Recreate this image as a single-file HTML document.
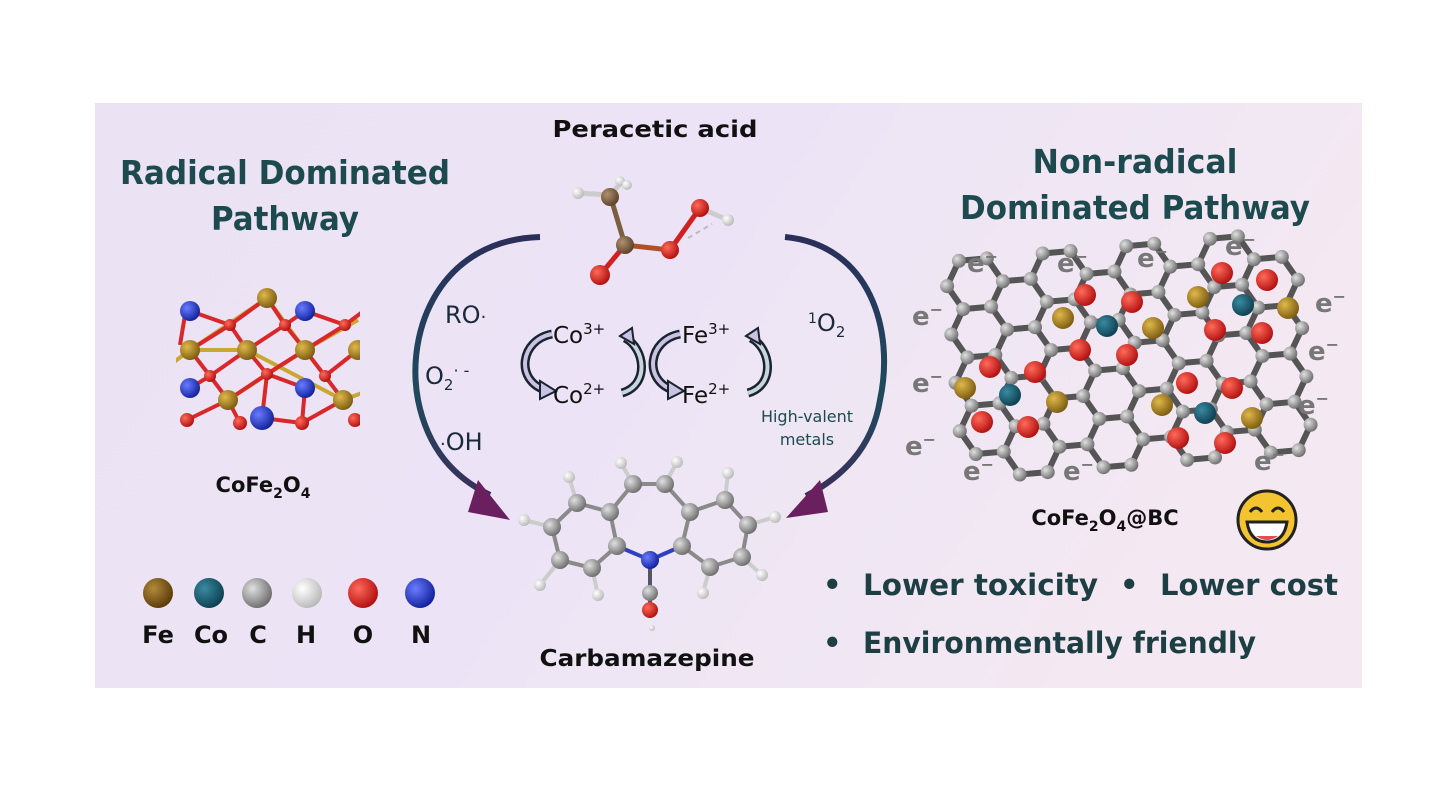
<!DOCTYPE html>
<html><head><meta charset="utf-8"><style>
html,body{margin:0;padding:0;background:#fff;}
svg{display:block;}
text{font-family:"DejaVu Sans","Liberation Sans",sans-serif;font-weight:bold;}
</style></head><body>
<svg id="s" width="1440" height="801" viewBox="0 0 1440 801" xmlns="http://www.w3.org/2000/svg">
<defs>
<linearGradient id="bg" x1="0" y1="0" x2="1" y2="0.3">
<stop offset="0" stop-color="#ebe3f3"/><stop offset="0.5" stop-color="#ece4f6"/><stop offset="1" stop-color="#f4e9f2"/>
</linearGradient>
<radialGradient id="gC" cx="0.35" cy="0.35" r="0.7"><stop offset="0" stop-color="#e0e0e0"/><stop offset="1" stop-color="#6b6b6b"/></radialGradient>
<radialGradient id="gH" cx="0.35" cy="0.35" r="0.7"><stop offset="0" stop-color="#ffffff"/><stop offset="1" stop-color="#b8b8b8"/></radialGradient>
<radialGradient id="gO" cx="0.35" cy="0.35" r="0.7"><stop offset="0" stop-color="#ff6a5a"/><stop offset="1" stop-color="#b00e0e"/></radialGradient>
<radialGradient id="gN" cx="0.35" cy="0.35" r="0.7"><stop offset="0" stop-color="#6a7bff"/><stop offset="1" stop-color="#10209a"/></radialGradient>
<radialGradient id="gFe" cx="0.35" cy="0.35" r="0.7"><stop offset="0" stop-color="#e0b84a"/><stop offset="1" stop-color="#7a5a10"/></radialGradient>
<radialGradient id="gFeL" cx="0.35" cy="0.35" r="0.7"><stop offset="0" stop-color="#b08a3a"/><stop offset="1" stop-color="#5a3a08"/></radialGradient>
<radialGradient id="gCo" cx="0.35" cy="0.35" r="0.7"><stop offset="0" stop-color="#3a8aa0"/><stop offset="1" stop-color="#0d3e50"/></radialGradient>
<radialGradient id="gBr" cx="0.35" cy="0.35" r="0.7"><stop offset="0" stop-color="#b09070"/><stop offset="1" stop-color="#5a4028"/></radialGradient>
<linearGradient id="arcL" x1="0" y1="0" x2="0" y2="1"><stop offset="0" stop-color="#2a2f5a"/><stop offset="0.6" stop-color="#1f4a5e"/><stop offset="1" stop-color="#3a2f5a"/></linearGradient>
<clipPath id="cr"><rect x="176" y="284" width="184" height="150"/></clipPath>
</defs>
<rect x="95" y="103" width="1267" height="585" fill="url(#bg)"/>

<!-- Titles -->
<text x="285" y="184" font-size="33" fill="#1d4a4e" text-anchor="middle" textLength="330" lengthAdjust="spacingAndGlyphs">Radical Dominated</text>
<text x="285" y="230" font-size="33" fill="#1d4a4e" text-anchor="middle" textLength="148" lengthAdjust="spacingAndGlyphs">Pathway</text>
<text x="1135" y="173" font-size="33" fill="#1d4a4e" text-anchor="middle" textLength="205" lengthAdjust="spacingAndGlyphs">Non-radical</text>
<text x="1135" y="219" font-size="33" fill="#1d4a4e" text-anchor="middle" textLength="350" lengthAdjust="spacingAndGlyphs">Dominated Pathway</text>
<text x="655" y="137" font-size="23" fill="#111" text-anchor="middle" textLength="205" lengthAdjust="spacingAndGlyphs">Peracetic acid</text>

<!-- Crystal -->
<g clip-path="url(#cr)" stroke-width="4">
<g stroke="#c9a832">
<line x1="267" y1="298" x2="190" y2="350"/><line x1="267" y1="298" x2="305" y2="350"/>
<line x1="190" y1="350" x2="247" y2="350"/><line x1="247" y1="350" x2="343" y2="400"/>
<line x1="305" y1="350" x2="228" y2="400"/><line x1="358" y1="320" x2="305" y2="350"/>
<line x1="190" y1="350" x2="170" y2="365"/><line x1="343" y1="400" x2="370" y2="390"/>
</g>
<g stroke="#d8282a">
<line x1="190" y1="311" x2="230" y2="325"/><line x1="230" y1="325" x2="190" y2="350"/><line x1="230" y1="325" x2="247" y2="350"/><line x1="230" y1="325" x2="267" y2="298"/>
<line x1="285" y1="325" x2="267" y2="298"/><line x1="285" y1="325" x2="247" y2="350"/><line x1="285" y1="325" x2="305" y2="311"/><line x1="285" y1="325" x2="305" y2="350"/>
<line x1="345" y1="325" x2="305" y2="311"/><line x1="345" y1="325" x2="305" y2="350"/><line x1="345" y1="325" x2="365" y2="310"/>
<line x1="210" y1="376" x2="190" y2="350"/><line x1="210" y1="376" x2="247" y2="350"/><line x1="210" y1="376" x2="190" y2="388"/><line x1="210" y1="376" x2="228" y2="400"/>
<line x1="267" y1="374" x2="247" y2="350"/><line x1="267" y1="374" x2="305" y2="350"/><line x1="267" y1="374" x2="228" y2="400"/><line x1="267" y1="374" x2="262" y2="418"/><line x1="267" y1="374" x2="305" y2="388"/>
<line x1="325" y1="376" x2="305" y2="350"/><line x1="325" y1="376" x2="358" y2="350"/><line x1="325" y1="376" x2="343" y2="400"/>
<line x1="187" y1="420" x2="228" y2="400"/><line x1="240" y1="423" x2="228" y2="400"/><line x1="302" y1="423" x2="262" y2="418"/><line x1="302" y1="423" x2="343" y2="400"/><line x1="302" y1="423" x2="305" y2="388"/>
<line x1="185" y1="315" x2="180" y2="345"/>
</g>
<g>
<circle cx="267" cy="298" r="10" fill="url(#gFe)"/>
<circle cx="190" cy="311" r="10" fill="url(#gN)"/><circle cx="305" cy="311" r="10" fill="url(#gN)"/>
<circle cx="190" cy="350" r="10" fill="url(#gFe)"/><circle cx="247" cy="350" r="10" fill="url(#gFe)"/><circle cx="305" cy="350" r="10" fill="url(#gFe)"/><circle cx="358" cy="350" r="10" fill="url(#gFe)"/>
<circle cx="190" cy="388" r="10" fill="url(#gN)"/><circle cx="305" cy="388" r="10" fill="url(#gN)"/>
<circle cx="228" cy="400" r="10" fill="url(#gFe)"/><circle cx="343" cy="400" r="10" fill="url(#gFe)"/>
<circle cx="230" cy="325" r="6" fill="url(#gO)"/><circle cx="285" cy="325" r="6" fill="url(#gO)"/><circle cx="345" cy="325" r="6" fill="url(#gO)"/>
<circle cx="210" cy="376" r="6" fill="url(#gO)"/><circle cx="267" cy="374" r="6" fill="url(#gO)"/><circle cx="325" cy="376" r="6" fill="url(#gO)"/>
<circle cx="187" cy="420" r="7" fill="url(#gO)"/><circle cx="240" cy="423" r="7" fill="url(#gO)"/><circle cx="302" cy="423" r="7" fill="url(#gO)"/><circle cx="355" cy="420" r="7" fill="url(#gO)"/>
<circle cx="262" cy="418" r="12" fill="url(#gN)"/>
</g>
</g>
<text x="263" y="492" font-size="21" fill="#111" text-anchor="middle">CoFe<tspan font-size="14" dy="6">2</tspan><tspan dy="-6">O</tspan><tspan font-size="14" dy="6">4</tspan></text>

<!-- Legend -->
<circle cx="158" cy="593" r="15" fill="url(#gFeL)"/><circle cx="209" cy="593" r="15" fill="url(#gCo)"/><circle cx="257" cy="593" r="15" fill="url(#gC)"/><circle cx="307" cy="593" r="15" fill="url(#gH)"/><circle cx="363" cy="593" r="15" fill="url(#gO)"/><circle cx="420" cy="593" r="15" fill="url(#gN)"/>
<g font-size="24" fill="#111" text-anchor="middle">
<text x="158" y="643">Fe</text><text x="211" y="643">Co</text><text x="258" y="643">C</text><text x="306" y="643">H</text><text x="363" y="643">O</text><text x="421" y="643">N</text>
</g>

<!-- Big arcs -->
<path d="M540,237 C440,240 405,330 418,400 C428,450 455,478 490,495" fill="none" stroke="url(#arcL)" stroke-width="6"/>
<polygon points="478,480 510,520 468,512" fill="#6a1f5e"/>
<path d="M785,237 C870,245 895,330 880,400 C872,450 840,478 806,496" fill="none" stroke="url(#arcL)" stroke-width="6"/>
<polygon points="820,480 786,518 828,512" fill="#6a1f5e"/>

<!-- Radicals -->
<g fill="#1b2a3a">
<text x="445" y="323" font-size="24" style="font-weight:normal">RO<tspan font-size="18">·</tspan></text>
<text x="425" y="384" font-size="24" style="font-weight:normal">O<tspan font-size="15" dy="6">2</tspan><tspan dy="-14" font-size="16">· -</tspan></text>
<text x="440" y="450" font-size="24" style="font-weight:normal"><tspan font-size="18">·</tspan>OH</text>
<text x="808" y="331" font-size="24" style="font-weight:normal"><tspan font-size="14" dy="-8">1</tspan><tspan dy="8">O</tspan><tspan font-size="15" dy="6">2</tspan></text>
</g>
<text x="807" y="422" font-size="16" fill="#1d4a4e" text-anchor="middle" style="font-weight:normal">High-valent</text>
<text x="807" y="445" font-size="16" fill="#1d4a4e" text-anchor="middle" style="font-weight:normal">metals</text>

<!-- Redox cycles -->
<g fill="none" stroke-linecap="butt">
<path d="M552,334 C520,340 515,380 545,390" stroke="#1a2430" stroke-width="9"/>
<path d="M552,334 C520,340 515,380 545,390" stroke="#c9c2e2" stroke-width="4"/>
<path d="M622,393 C650,385 645,348 625,338" stroke="#1a2430" stroke-width="9"/>
<path d="M622,393 C650,385 645,348 625,338" stroke="#c7d6dc" stroke-width="4"/>
<path d="M680,334 C648,340 643,380 673,390" stroke="#1a2430" stroke-width="9"/>
<path d="M680,334 C648,340 643,380 673,390" stroke="#c9c2e2" stroke-width="4"/>
<path d="M748,393 C776,385 771,348 751,338" stroke="#1a2430" stroke-width="9"/>
<path d="M748,393 C776,385 771,348 751,338" stroke="#c7d6dc" stroke-width="4"/>
</g>
<polygon points="540,381 556,391 540,399" fill="#c9c2e2" stroke="#1a2430" stroke-width="2"/>
<polygon points="668,381 684,391 668,399" fill="#c9c2e2" stroke="#1a2430" stroke-width="2"/>
<polygon points="620,336 632,328 634,344" fill="#c9c2e2" stroke="#1a2430" stroke-width="2"/>
<polygon points="746,336 758,328 760,344" fill="#c9c2e2" stroke="#1a2430" stroke-width="2"/>
<g font-size="23" fill="#111">
<text x="553" y="343" style="font-weight:normal">Co<tspan font-size="15" dy="-9">3+</tspan></text>
<text x="553" y="403" style="font-weight:normal">Co<tspan font-size="15" dy="-9">2+</tspan></text>
<text x="682" y="343" style="font-weight:normal">Fe<tspan font-size="15" dy="-9">3+</tspan></text>
<text x="682" y="403" style="font-weight:normal">Fe<tspan font-size="15" dy="-9">2+</tspan></text>
</g>

<!-- Peracetic acid molecule -->
<g stroke-width="5">
<line x1="610" y1="195" x2="625" y2="245" stroke="#7a6040"/>
<line x1="610" y1="195" x2="578" y2="193" stroke="#ccc"/><line x1="610" y1="195" x2="622" y2="182" stroke="#ccc"/>
<line x1="625" y1="245" x2="600" y2="275" stroke="#d02020"/>
<line x1="625" y1="245" x2="670" y2="250" stroke="#b0502a"/>
<line x1="670" y1="250" x2="700" y2="208" stroke="#d02020"/>
<line x1="700" y1="208" x2="728" y2="220" stroke="#ccc"/>
<line x1="688" y1="238" x2="712" y2="224" stroke="#bbb" stroke-width="2" stroke-dasharray="5 4"/>
</g>
<circle cx="578" cy="193" r="6" fill="url(#gH)"/><circle cx="620" cy="181" r="5" fill="url(#gH)"/><circle cx="627" cy="185" r="5" fill="url(#gH)"/>
<circle cx="610" cy="197" r="9" fill="url(#gBr)"/><circle cx="625" cy="245" r="9" fill="url(#gBr)"/>
<circle cx="600" cy="275" r="10" fill="url(#gO)"/><circle cx="670" cy="250" r="9" fill="url(#gO)"/><circle cx="700" cy="208" r="9" fill="url(#gO)"/>
<circle cx="728" cy="220" r="6" fill="url(#gH)"/>

<!-- Carbamazepine -->
<g stroke="#8a8a8a" stroke-width="4">
<line x1="633" y1="484" x2="665" y2="484"/><line x1="633" y1="484" x2="610" y2="512"/><line x1="665" y1="484" x2="690" y2="512"/>
<line x1="610" y1="512" x2="577" y2="503"/><line x1="577" y1="503" x2="552" y2="527"/><line x1="552" y1="527" x2="560" y2="560"/><line x1="560" y1="560" x2="592" y2="568"/><line x1="592" y1="568" x2="617" y2="546"/><line x1="617" y1="546" x2="610" y2="512"/>
<line x1="690" y1="512" x2="725" y2="500"/><line x1="725" y1="500" x2="748" y2="525"/><line x1="748" y1="525" x2="742" y2="557"/><line x1="742" y1="557" x2="710" y2="567"/><line x1="710" y1="567" x2="682" y2="546"/><line x1="682" y1="546" x2="690" y2="512"/>
<line x1="633" y1="484" x2="621" y2="463" stroke="#ccc"/><line x1="665" y1="484" x2="677" y2="462" stroke="#ccc"/>
<line x1="577" y1="503" x2="569" y2="477" stroke="#ccc"/><line x1="725" y1="500" x2="728" y2="473" stroke="#ccc"/>
<line x1="552" y1="527" x2="524" y2="520" stroke="#ccc"/><line x1="748" y1="525" x2="775" y2="517" stroke="#ccc"/>
<line x1="560" y1="560" x2="540" y2="585" stroke="#ccc"/><line x1="742" y1="557" x2="762" y2="575" stroke="#ccc"/>
<line x1="592" y1="568" x2="598" y2="595" stroke="#ccc"/><line x1="710" y1="567" x2="703" y2="593" stroke="#ccc"/>
<line x1="617" y1="546" x2="650" y2="560" stroke="#3040c0"/><line x1="682" y1="546" x2="650" y2="560" stroke="#3040c0"/>
<line x1="650" y1="560" x2="650" y2="610" stroke="#556"/>
</g>
<g fill="url(#gH)">
<circle cx="621" cy="463" r="6"/><circle cx="677" cy="462" r="6"/><circle cx="569" cy="477" r="6"/><circle cx="728" cy="473" r="6"/><circle cx="524" cy="520" r="6"/><circle cx="775" cy="517" r="6"/><circle cx="540" cy="585" r="6"/><circle cx="762" cy="575" r="6"/><circle cx="598" cy="595" r="6"/><circle cx="703" cy="593" r="6"/><circle cx="652" cy="628" r="3"/>
</g>
<g fill="url(#gC)">
<circle cx="633" cy="484" r="9"/><circle cx="665" cy="484" r="9"/><circle cx="610" cy="512" r="9"/><circle cx="690" cy="512" r="9"/><circle cx="577" cy="503" r="9"/><circle cx="725" cy="500" r="9"/><circle cx="552" cy="527" r="9"/><circle cx="748" cy="525" r="9"/><circle cx="560" cy="560" r="9"/><circle cx="742" cy="557" r="9"/><circle cx="592" cy="568" r="9"/><circle cx="710" cy="567" r="9"/><circle cx="617" cy="546" r="9"/><circle cx="682" cy="546" r="9"/><circle cx="650" cy="593" r="8"/>
</g>
<circle cx="650" cy="560" r="9" fill="url(#gN)"/><circle cx="650" cy="610" r="8" fill="url(#gO)"/>
<text x="647" y="666" font-size="23" fill="#111" text-anchor="middle" textLength="215" lengthAdjust="spacingAndGlyphs">Carbamazepine</text>

<!-- Graphene -->
<g id="gr"></g>
<g id="ee" fill="#777" font-size="26" style="font-weight:normal"></g>

<text x="1105" y="525" font-size="21" fill="#111" text-anchor="middle">CoFe<tspan font-size="14" dy="6">2</tspan><tspan dy="-6">O</tspan><tspan font-size="14" dy="6">4</tspan><tspan dy="-6">@BC</tspan></text>
<!-- smiley -->
<circle cx="1267" cy="520" r="29" fill="#f4c430" stroke="#222" stroke-width="3"/>
<path d="M1250,512 q6,-8 12,0 M1272,512 q6,-8 12,0" fill="none" stroke="#222" stroke-width="3"/>
<path d="M1247,522 h40 q-3,20 -20,20 q-17,0 -20,-20z" fill="#fff" stroke="#222" stroke-width="3"/>
<path d="M1256,536 q11,8 22,0" fill="#e05050"/>

<!-- bullets -->
<g font-size="29" fill="#1d3f44">
<text x="823" y="595">•</text>
<text x="863" y="595" textLength="235" lengthAdjust="spacingAndGlyphs">Lower toxicity</text>
<text x="1120" y="595">•</text>
<text x="1160" y="595" textLength="178" lengthAdjust="spacingAndGlyphs">Lower cost</text>
<text x="823" y="653">•</text>
<text x="863" y="653" textLength="393" lengthAdjust="spacingAndGlyphs">Environmentally friendly</text>
</g>
</svg>
<script>
(function(){
var NS="http://www.w3.org/2000/svg",g=document.getElementById("gr");
function el(t,a,p){var e=document.createElementNS(NS,t);for(var k in a)e.setAttribute(k,a[k]);(p||g).appendChild(e);return e;}
var a=28,h=Math.sqrt(3)*a,ang=-5*Math.PI/180,ox=945,oy=262;
function tr(x,y){return [ox+x*Math.cos(ang)-y*Math.sin(ang),oy+x*Math.sin(ang)+y*Math.cos(ang)];}
var verts={},edges={};
for(var c=0;c<8;c++)for(var r=0;r<4;r++){
 var cx=1.5*a*c+a, cy=h*(r+0.5*(c%2))+h/2;
 var pts=[];
 for(var i=0;i<6;i++){var x=cx+a*Math.cos(i*Math.PI/3),y=cy+a*Math.sin(i*Math.PI/3);var k=Math.round(x)+","+Math.round(y);verts[k]=[x,y];pts.push(k);}
 for(var i=0;i<6;i++){var k1=pts[i],k2=pts[(i+1)%6];var ek=k1<k2?k1+"|"+k2:k2+"|"+k1;edges[ek]=[verts[k1],verts[k2]];}
}
var L=el("g",{stroke:"#555","stroke-width":"6","stroke-linecap":"round"});
for(var e in edges){var p=tr(edges[e][0][0],edges[e][0][1]),q=tr(edges[e][1][0],edges[e][1][1]);el("line",{x1:p[0],y1:p[1],x2:q[0],y2:q[1]},L);}
for(var v in verts){var p=tr(verts[v][0],verts[v][1]);el("circle",{cx:p[0],cy:p[1],r:7,fill:"url(#gC)"});}
var red=[[1085,295],[1132,302],[1222,273],[1267,280],[1080,350],[1127,355],[1215,330],[1262,333],[990,367],[1035,372],[1187,383],[1232,388],[982,422],[1028,427],[1178,438],[1225,443]];
var gold=[[1063,318],[1153,328],[1198,297],[1288,308],[965,388],[1057,402],[1162,405],[1252,418]];
var teal=[[1107,326],[1243,305],[1010,395],[1205,413]];
red.forEach(function(p){el("circle",{cx:p[0],cy:p[1],r:11,fill:"url(#gO)"});});
gold.forEach(function(p){el("circle",{cx:p[0],cy:p[1],r:11,fill:"url(#gFe)"});});
teal.forEach(function(p){el("circle",{cx:p[0],cy:p[1],r:11,fill:"url(#gCo)"});});
var E=document.getElementById("ee");
[[967,272],[1057,272],[1137,267],[1225,255],[912,325],[1315,312],[1308,360],[912,392],[1298,414],[905,455],[963,480],[1063,480],[1254,470]].forEach(function(p){
 var t=el("text",{x:p[0],y:p[1]},E);t.textContent="e";var s=document.createElementNS(NS,"tspan");s.setAttribute("font-size","16");s.setAttribute("dy","-10");s.textContent="−";t.appendChild(s);
});
})();
</script>
</body></html>
